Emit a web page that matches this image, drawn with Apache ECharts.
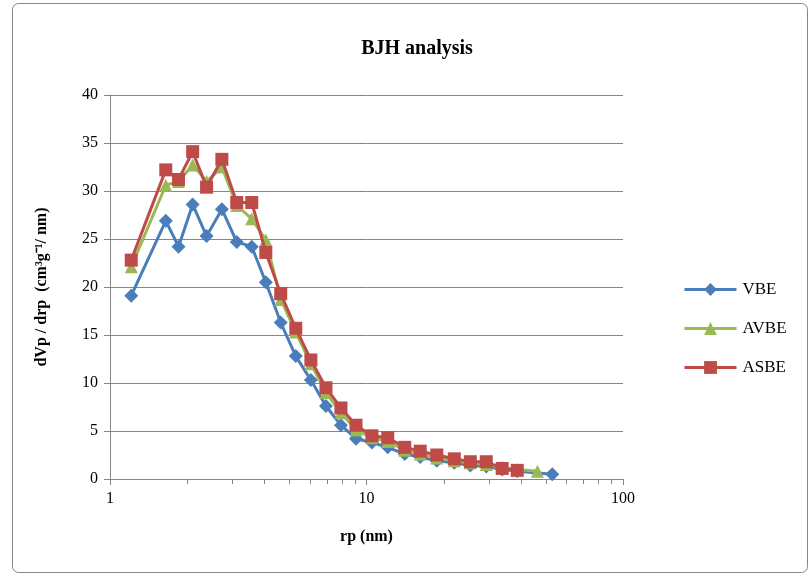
<!DOCTYPE html>
<html>
    <head>
        <title>BJH analysis</title>
        <meta charset="UTF-8">
        <style>
            html, body { margin: 0; padding: 0; background: #fff; }
            #main { width: 812px; height: 577px; }
        </style>
        <script src="https://cdn.jsdelivr.net/npm/echarts@6/dist/echarts.min.js"></script>
    </head>
    <body>
        <div id="main"></div>
    </body>
    <script>
        // pore radius (nm)
        var rp = [1.21, 1.65, 1.85, 2.10, 2.38, 2.73, 3.12, 3.57, 4.05, 4.63, 5.30, 6.07, 6.95, 7.95, 9.10,
                  10.5, 12.1, 14.1, 16.2, 18.8, 22.0, 25.4, 29.3, 33.8, 38.7];
        var rpAVBE = rp.concat([46.4]);
        var rpVBE = rp.concat([53.0]);

        var vbe = [19.1, 26.9, 24.2, 28.6, 25.3, 28.1, 24.7, 24.2, 20.5, 16.3, 12.8, 10.3, 7.6, 5.6, 4.2,
                   3.8, 3.3, 2.6, 2.3, 1.9, 1.7, 1.4, 1.3, 1.0, 0.8, 0.5];
        var avbe = [22.1, 30.6, 31.0, 32.7, 31.0, 32.5, 28.5, 27.1, 24.9, 18.7, 15.3, 12.0, 9.0, 6.9, 5.1,
                    4.3, 3.9, 3.0, 2.6, 2.2, 1.9, 1.7, 1.5, 1.2, 1.0, 0.8];
        var asbe = [22.8, 32.2, 31.2, 34.1, 30.4, 33.3, 28.8, 28.8, 23.6, 19.3, 15.7, 12.4, 9.5, 7.4, 5.6,
                    4.5, 4.3, 3.3, 2.9, 2.5, 2.1, 1.8, 1.8, 1.1, 0.9];

        var yTicks = [0, 5, 10, 15, 20, 25, 30, 35, 40];
        var minorX = [2, 3, 4, 5, 6, 7, 8, 9, 20, 30, 40, 50, 60, 70, 80, 90];

        function pairs(xs, ys) {
            var out = [];
            for (var i = 0; i < ys.length; i++) out.push([xs[i], ys[i]]);
            return out;
        }

        var font = 'Liberation Serif';
        var gray = '#868686';

        var chart = echarts.init(document.getElementById('main'));

        var option = {
            animation: false,
            textStyle: { fontFamily: font },
            title: {
                text: 'BJH analysis',
                left: 412,
                top: 34,
                textAlign: 'center',
                textStyle: { fontFamily: font, fontSize: 20, fontWeight: 'bold', color: '#000' }
            },
            legend: {
                orient: 'vertical',
                left: 678,
                top: 276,
                itemWidth: 52,
                itemHeight: 16,
                itemGap: 22,
                lineStyle: { width: 3 },
                textStyle: { fontFamily: font, fontSize: 17, color: '#000', padding: [0, 0, 0, 1] },
                data: ['VBE', 'AVBE', 'ASBE']
            },
            grid: { left: 110, right: 189, top: 95, bottom: 98 },
            xAxis: {
                type: 'log',
                logBase: 10,
                min: 1,
                max: 100,
                name: 'rp (nm)',
                nameLocation: 'middle',
                nameGap: 50,
                nameTextStyle: { fontFamily: font, fontSize: 16, fontWeight: 'bold', color: '#000' },
                axisLine: { lineStyle: { color: gray, width: 1 } },
                axisTick: { length: 6, lineStyle: { color: gray } },
                axisLabel: { fontFamily: font, fontSize: 16, color: '#000', margin: 12 },
                splitLine: { show: false }
            },
            yAxis: {
                type: 'value',
                min: 0,
                max: 40,
                interval: 5,
                name: 'dVp / drp  (cm\u00b3g\u207b\u00b9/ nm)',
                nameLocation: 'middle',
                nameGap: 60,
                nameTextStyle: { fontFamily: font, fontSize: 16, fontWeight: 'bold', color: '#000' },
                axisLine: { show: true, lineStyle: { color: gray, width: 1 } },
                axisTick: { show: true, length: 6, lineStyle: { color: gray } },
                axisLabel: {
                    fontFamily: font, fontSize: 16, color: '#000', margin: 12,
                    formatter: function (v) { return yTicks.indexOf(v) >= 0 ? String(v) : ''; }
                },
                splitLine: { lineStyle: { color: gray, width: 1 } }
            },
            series: [
                {
                    name: 'VBE',
                    type: 'line',
                    data: pairs(rpVBE, vbe),
                    symbol: 'diamond',
                    symbolSize: 14,
                    color: '#4a7ebb',
                    lineStyle: { width: 3 },
                    z: 2
                },
                {
                    name: 'AVBE',
                    type: 'line',
                    data: pairs(rpAVBE, avbe),
                    symbol: 'triangle',
                    symbolSize: 13,
                    color: '#98b954',
                    lineStyle: { width: 3 },
                    z: 3
                },
                {
                    name: 'ASBE',
                    type: 'line',
                    data: pairs(rp, asbe),
                    symbol: 'rect',
                    symbolSize: 13,
                    color: '#be4b48',
                    lineStyle: { width: 3 },
                    z: 4
                }
            ]
        };

        chart.setOption(option);

        // minor ticks at 2..9 of each decade, plus chart border
        var elems = [{
            type: 'rect',
            shape: { x: 12.5, y: 3.5, width: 795, height: 569, r: 6 },
            style: { fill: 'none', stroke: gray, lineWidth: 1 },
            silent: true
        }];
        minorX.forEach(function (v) {
            var p = chart.convertToPixel({ xAxisIndex: 0 }, v);
            var y0 = chart.convertToPixel({ yAxisIndex: 0 }, 0);
            elems.push({
                type: 'line',
                shape: { x1: Math.round(p) + 0.5, y1: y0, x2: Math.round(p) + 0.5, y2: y0 + 5 },
                style: { stroke: gray, lineWidth: 1 },
                silent: true
            });
        });
        chart.setOption({ graphic: elems });
    </script>
</html>
